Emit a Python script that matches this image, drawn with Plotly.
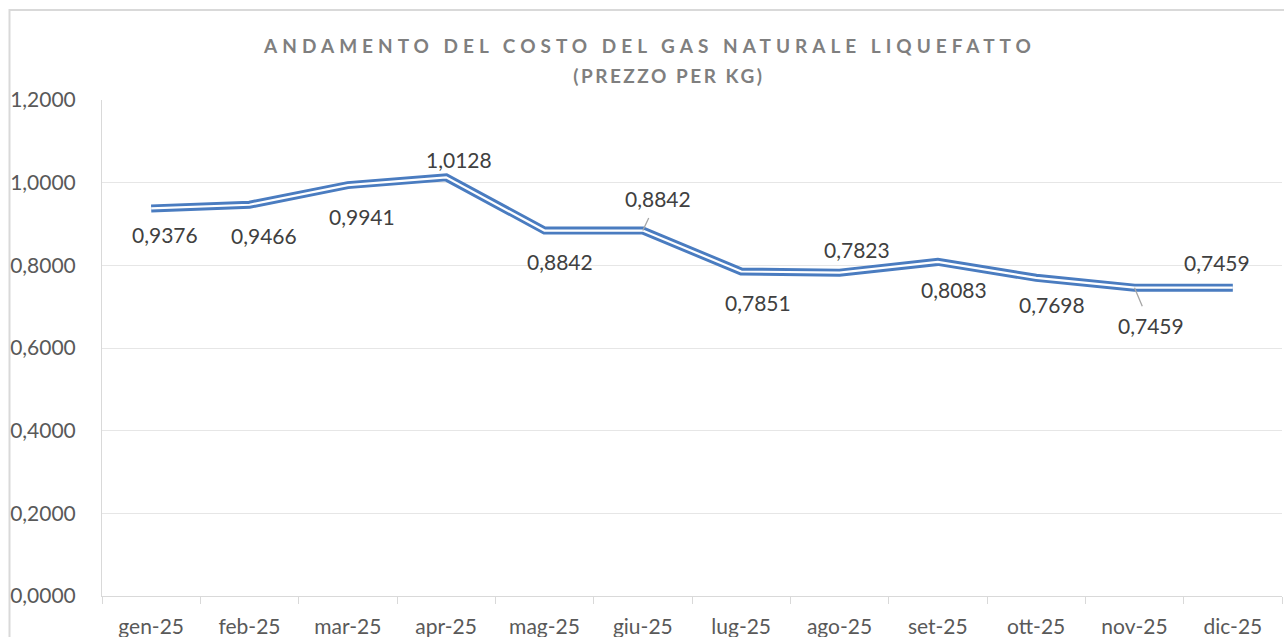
import plotly.graph_objects as go

# ---- data ----
months = ["gen-25", "feb-25", "mar-25", "apr-25", "mag-25", "giu-25",
          "lug-25", "ago-25", "set-25", "ott-25", "nov-25", "dic-25"]
prices = [0.9376, 0.9466, 0.9941, 1.0128, 0.8842, 0.8842,
          0.7851, 0.7823, 0.8083, 0.7698, 0.7459, 0.7459]
y_tick_values = [0.0, 0.2, 0.4, 0.6, 0.8, 1.0, 1.2]

title_line1 = "ANDAMENTO DEL COSTO DEL GAS NATURALE LIQUEFATTO"
title_line2 = "(PREZZO PER KG)"

# ---- label styling: pixel offsets of each data label from its point ----
label_dx = [14, 14, 14, 13, 15, 15, 17, 17, 16, 16, 16, -16]
label_dy = [26, 31, 31, -18, 31, -32, 31, -23, 28, 27, 38, -25]
label_leader = [False, False, False, False, False, True,
                False, False, False, False, True, False]

FONT = "Lato, 'Open Sans', sans-serif"
BLUE = "#4a7cc0"
GRID = "#e6e6e6"
AXIS = "#d9d9d9"

fig = go.Figure()
# double (compound) line: wide blue stroke with a thin white stroke on top
fig.add_trace(go.Scatter(x=months, y=prices, mode="lines",
                         line=dict(color=BLUE, width=8), hoverinfo="skip",
                         showlegend=False))
fig.add_trace(go.Scatter(x=months, y=prices, mode="lines",
                         line=dict(color="white", width=2.2), hoverinfo="skip",
                         showlegend=False))

annotations = []
for m, v, dx, dy, lead in zip(months, prices, label_dx, label_dy, label_leader):
    annotations.append(dict(
        x=m, y=v, xref="x", yref="y",
        text=f"{v:.4f}".replace(".", ","),
        showarrow=True, ax=dx, ay=dy, axref="pixel", ayref="pixel",
        arrowhead=0, arrowwidth=1.3 if lead else 0.1,
        arrowcolor="#a6a6a6" if lead else "rgba(0,0,0,0)",
        standoff=0, startstandoff=6 if lead else 0,
        font=dict(family=FONT, size=21, color="#404040"),
    ))

# second title line
annotations.append(dict(
    x=(669 - 102) / 1180, y=(596 - 75) / 496, xref="paper", yref="paper",
    xanchor="center", yanchor="middle", showarrow=False,
    text=title_line2,
    font=dict(family=FONT, size=19, color="#7f7f7f", weight=700),
))

fig.update_layout(
    width=1284, height=637,
    margin=dict(l=102, r=2, t=100, b=41, autoexpand=False),
    paper_bgcolor="white", plot_bgcolor="white",
    separators=",.",
    title=dict(text=title_line1, x=650 / 1284, xref="container", xanchor="center",
               y=1 - 46 / 637, yref="container", yanchor="middle",
               font=dict(family=FONT, size=19, color="#7f7f7f", weight=700)),
    annotations=annotations,
    shapes=[dict(type="rect", xref="paper", yref="paper",
                 x0=(9.5 - 102) / 1180, x1=1.05, y0=-0.3, y1=(596 - 10) / 496,
                 line=dict(color=AXIS, width=2), fillcolor="rgba(0,0,0,0)",
                 layer="below")],
    xaxis=dict(type="category", range=[-0.5, len(months) - 0.5], autorange=False,
               automargin=False, showgrid=False, showline=True, linecolor=AXIS,
               linewidth=1, ticks="outside", tickson="boundaries", ticklen=7,
               tickcolor=AXIS, tickwidth=1, ticklabelstandoff=12,
               tickfont=dict(family=FONT, size=21, color="#595959"),
               fixedrange=True),
    yaxis=dict(range=[0, 1.2], autorange=False, automargin=False,
               tickvals=y_tick_values, tickformat=".4f",
               showgrid=True, gridcolor=GRID, gridwidth=1, zeroline=False,
               showline=True, linecolor=AXIS, linewidth=1, ticks="",
               ticklabelstandoff=21,
               tickfont=dict(family=FONT, size=21, color="#595959"),
               fixedrange=True),
)

post = """
document.documentElement.style.margin = '0';
document.body.style.margin = '0';
document.body.style.padding = '0';
document.body.style.overflow = 'hidden';
var gd = document.getElementById('{plot_id}');
gd.querySelectorAll('text').forEach(function(t){
  var s = t.textContent || '';
  if (s.indexOf('ANDAMENTO') === 0) { t.style.letterSpacing = '5px'; }
  if (s.indexOf('(PREZZO') === 0) { t.style.letterSpacing = '2.5px'; }
});
"""

fig.write_html("out.html", config={"displayModeBar": False, "staticPlot": True},
               post_script=post)
